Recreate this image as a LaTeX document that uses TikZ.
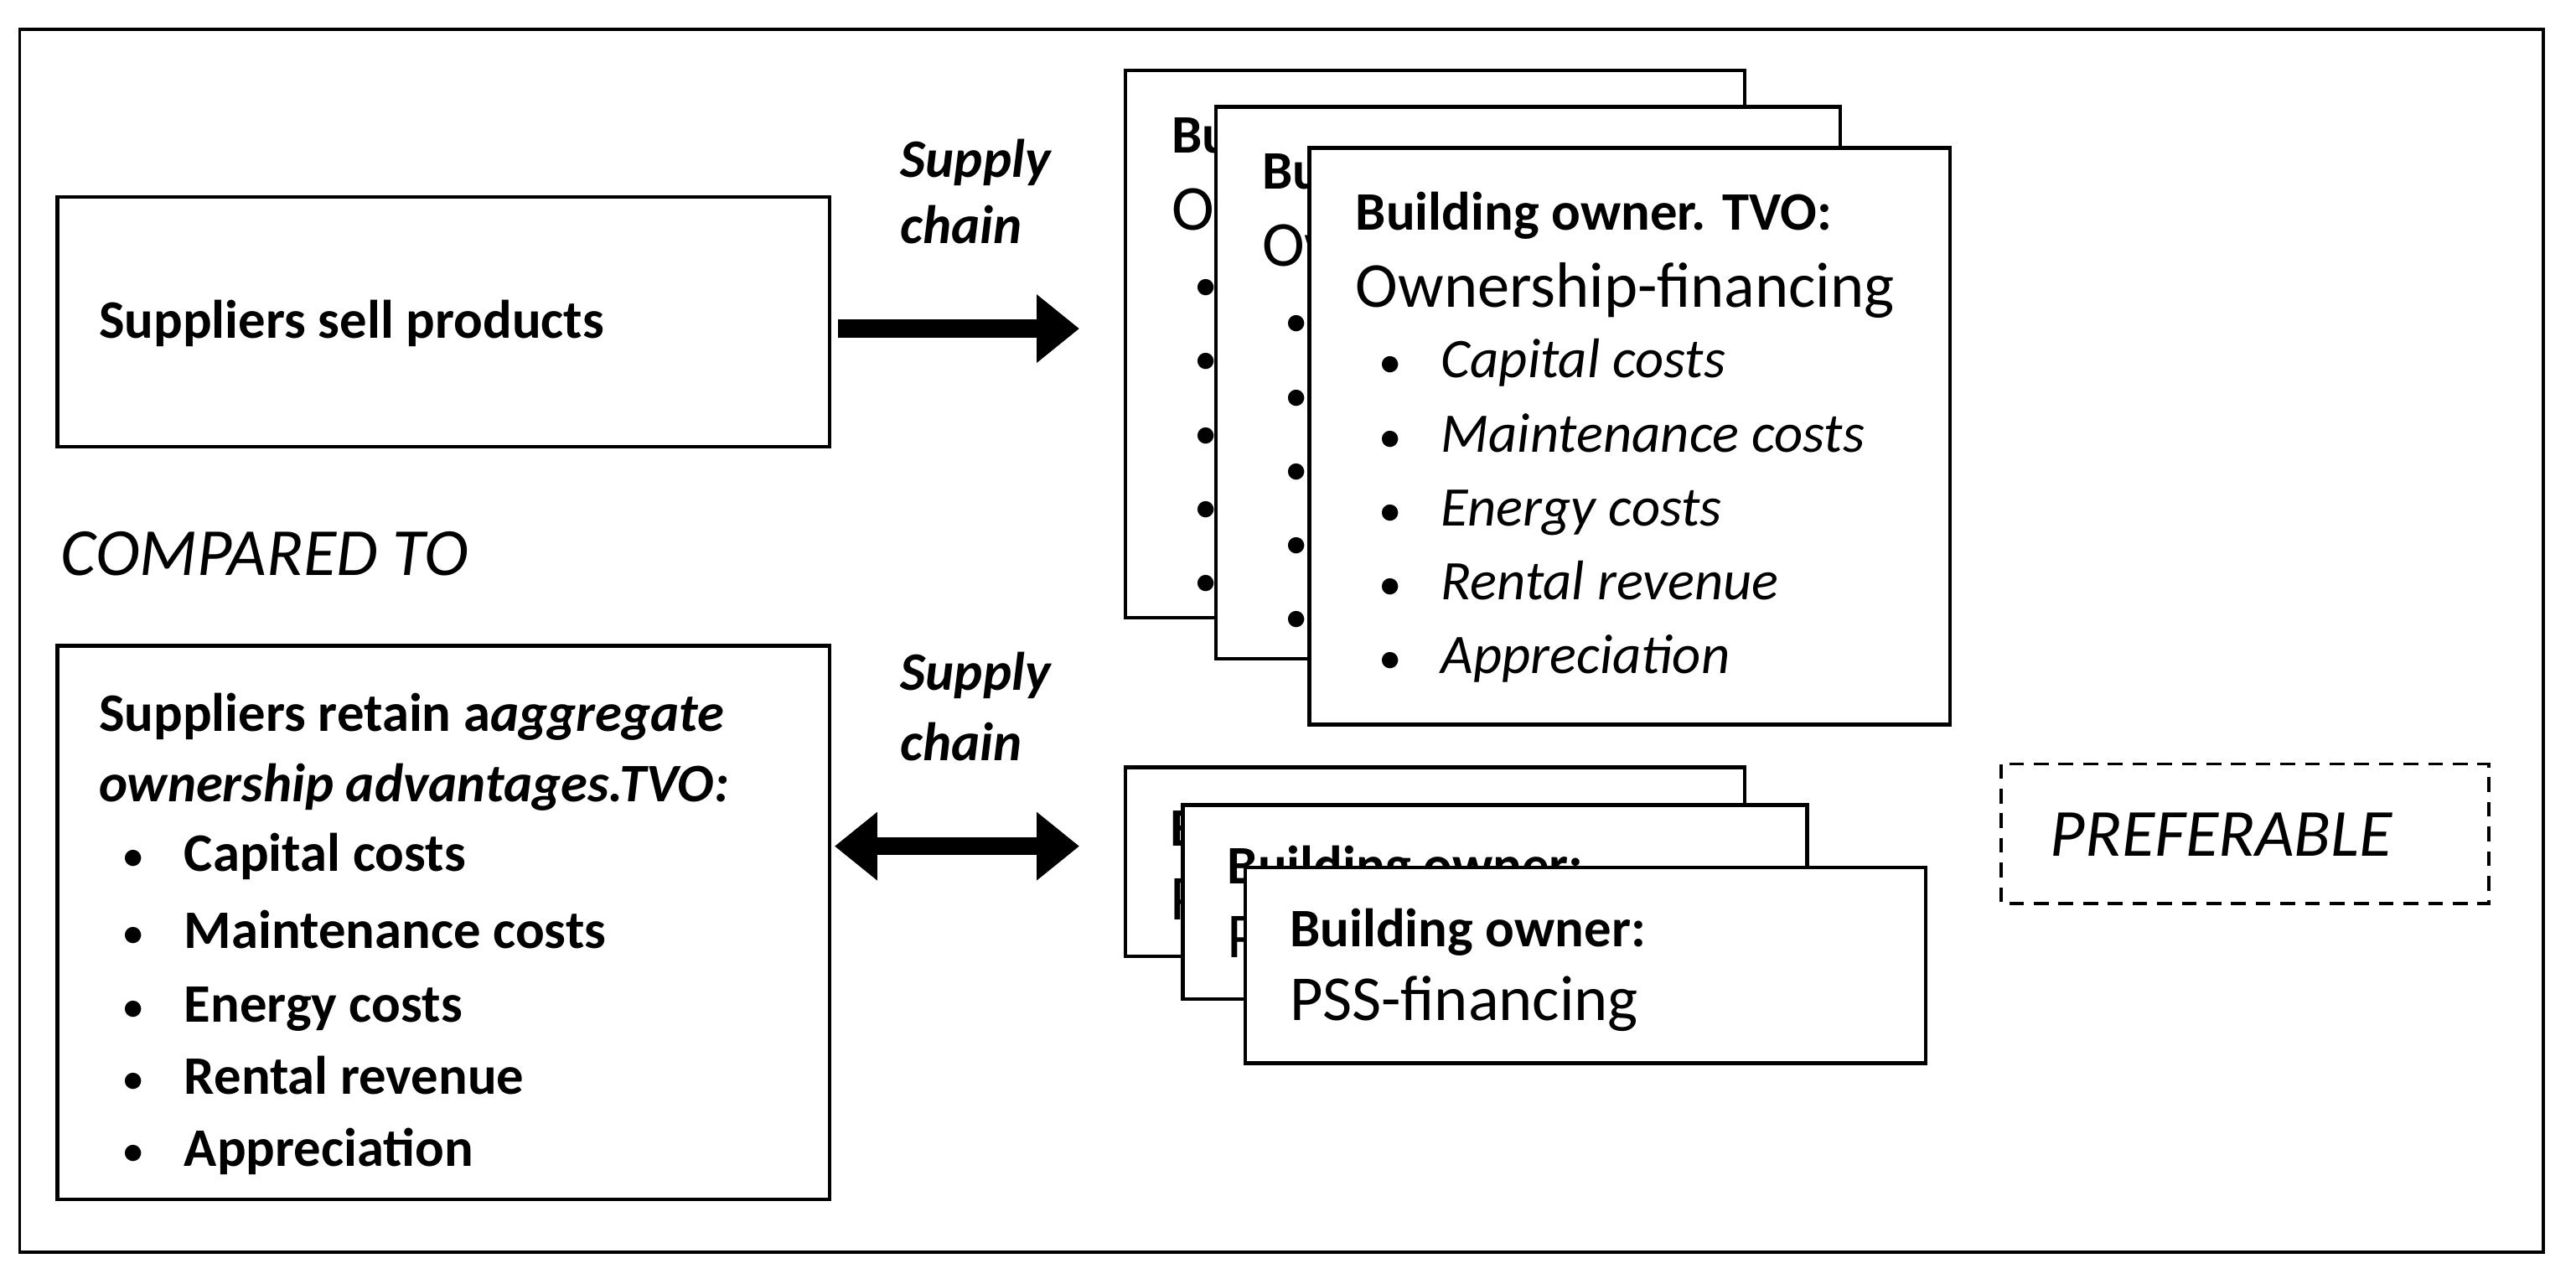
\documentclass[tikz,border=0pt]{standalone}
\usetikzlibrary{arrows.meta}
\usepackage{fontspec}
\setmainfont{Carlito}
\begin{document}
\begin{tikzpicture}[x=1pt,y=-1pt,
 box/.style={draw,line width=2.2pt,fill=white},
 t/.style={anchor=base west,inner sep=0,font=\fontsize{33}{36}\selectfont},
 tb/.style={t,font=\fontsize{33}{36}\selectfont\bfseries},
 tbi/.style={t,font=\fontsize{33}{36}\selectfont\bfseries\itshape},
 ti/.style={t,font=\fontsize{34}{36}\selectfont\itshape},
 bul/.style={t,font=\fontsize{28}{36}\selectfont},
 big/.style={t,font=\fontsize{39}{42}\selectfont},
 bigi/.style={t,font=\fontsize{41}{44}\selectfont\itshape},
 fat/.style={line width=11pt,-{Triangle[length=26pt,width=40pt]}},
 fatd/.style={line width=11pt,{Triangle[length=26pt,width=40pt]}-{Triangle[length=26pt,width=40pt]}}]
\useasboundingbox (0,0) rectangle (1568,778);
\draw[line width=2pt] (12,18) rectangle (1548,762);
% top-left
\draw[box] (35,120) rectangle (505,272);
\node[tb] (s1) at (60,206) {Suppliers sell products};
\coordinate (a1) at (510,200); \coordinate (b1) at (657,200);
\draw[fat] (a1) -- (b1);
\node[tbi] (sc1) at (548,108) {Supply};
\node[tbi] (sc1b) at (548,148) {chain};
\node[bigi] (cmp) at (37,350) {COMPARED TO};
% bottom-left
\draw[box] (35,393) rectangle (505,730);
\node[tb] (r1) at (60,445) {Suppliers retain a\textit{aggregate}};
\node[tbi] (r2) at (60,488) {ownership advantages.TVO:};
\foreach \y/\s [count=\i] in {530/Capital costs,577/Maintenance costs,622/Energy costs,666/Rental revenue,710/Appreciation}{
 \node[bul] (lb\i) at (74,\y) {\textbullet};
 \node[tb] (lt\i) at (112,\y) {\s};}
\node[tbi] (sc2) at (548,420) {Supply};
\node[tbi] (sc2b) at (548,463) {chain};
\coordinate (a2) at (508,515); \coordinate (b2) at (657,515);
\draw[fatd] (a2) -- (b2);
% top stack
\foreach \x/\yy/\xe/\ye/\cx [count=\k] in {685/43/1062/376/740, 740/65/1120/401/797, 797/90/1187/441/1187}{
 \draw[box] (\x,\yy) rectangle (\xe,\ye);
 \begin{scope}
 \clip (\x,\yy) rectangle (\cx-1,\ye);
 \node[tb] (h\k) at (\x+28,\yy+50) {Building owner. TVO:};
 \node[big] (o\k) at (\x+28,\yy+97) {Ownership-financing};
 \foreach \s [count=\i] in {Capital costs,Maintenance costs,Energy costs,Rental revenue,Appreciation}{
  \node[bul] (pb\k\i) at (\x+42,\yy+140+\i*45-45) {\textbullet};
  \node[ti] (pt\k\i) at (\x+80,\yy+140+\i*45-45) {\s};}
 \end{scope}
}
% bottom stack
\foreach \x/\yy/\xe/\ye/\cx/\cy [count=\k] in {685/467/1062/582/720/490, 720/490/1100/608/758/528, 758/528/1172/647/1172/647}{
 \draw[box] (\x,\yy) rectangle (\xe,\ye);
 \begin{scope}
 \clip (\x,\yy) rectangle (\cx-1,\ye) (\x,\yy) rectangle (\xe,\cy-1);
 \node[tb] (q\k) at (\x+27,\yy+48) {Building owner:};
 \node[big] (f\k) at (\x+27,\yy+93) {PSS-financing};
 \end{scope}
}
\draw[line width=1.8pt,dash pattern=on 9pt off 6pt] (1218,465) rectangle (1515,550);
\node[bigi,anchor=center] (pref) at (1352,508) {PREFERABLE};
\end{tikzpicture}
\end{document}
